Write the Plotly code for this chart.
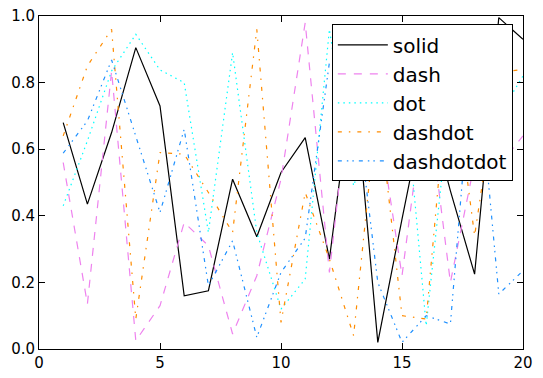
import plotly.graph_objects as go

x = list(range(1, 21))
solid = [0.68, 0.435, 0.65, 0.905, 0.73, 0.16, 0.175, 0.51, 0.337, 0.53, 0.635, 0.27, 0.83, 0.02, 0.39, 0.75, 0.475, 0.225, 0.995, 0.93]
dash = [0.56, 0.135, 0.835, 0.025, 0.13, 0.38, 0.31, 0.045, 0.22, 0.51, 0.98, 0.23, 0.88, 0.70, 0.22, 0.78, 0.20, 0.56, 0.55, 0.64]
dot = [0.43, 0.625, 0.835, 0.945, 0.838, 0.80, 0.35, 0.89, 0.35, 0.12, 0.21, 0.96, 0.49, 0.70, 0.87, 0.07, 0.76, 0.60, 0.70, 0.82]
dashdot = [0.64, 0.85, 0.96, 0.09, 0.59, 0.585, 0.47, 0.35, 0.96, 0.08, 0.47, 0.27, 0.04, 0.75, 0.10, 0.09, 0.90, 0.34, 0.83, 0.84]
dashdotdot = [0.588, 0.685, 0.868, 0.64, 0.41, 0.66, 0.19, 0.325, 0.035, 0.23, 0.333, 0.86, 0.80, 0.20, 0.02, 0.10, 0.075, 0.95, 0.165, 0.235]

names = ["solid", "dash", "dot", "dashdot", "dashdotdot"]
series = [solid, dash, dot, dashdot, dashdotdot]
colors = ["#000000", "#EE82EE", "#00FFFF", "#FF8C00", "#1E90FF"]
dashes = ["solid", "8px,8px", "1.5px,4px", "4px,7px,1.5px,7px", "4px,5px,1.5px,4px,1.5px,5px"]

fig = go.Figure()
for n, s, c, d in zip(names, series, colors, dashes):
    fig.add_trace(go.Scatter(x=x, y=s, mode="lines", name=n,
                             line=dict(color=c, width=1.2, dash=d)))

axis_common = dict(showline=True, linecolor="black", linewidth=1, mirror="allticks",
                   ticks="inside", ticklen=6, tickcolor="black", showgrid=False,
                   zeroline=False, automargin=False,
                   tickfont=dict(family="DejaVu Sans", size=15, color="black"))
fig.update_xaxes(range=[0, 20], tickvals=[0, 5, 10, 15, 20], **axis_common)
fig.update_yaxes(range=[0, 1], tickvals=[0, 0.2, 0.4, 0.6, 0.8, 1.0], tickformat=".1f", **axis_common)

fig.update_layout(
    width=543, height=378,
    margin=dict(l=39, r=20, t=16, b=29, autoexpand=False),
    paper_bgcolor="white", plot_bgcolor="white",
    showlegend=True,
    legend=dict(x=0.979, y=0.975, xanchor="right", yanchor="top",
                bgcolor="white", bordercolor="black", borderwidth=1,
                font=dict(family="DejaVu Sans", size=20, color="black"),
                itemwidth=50, tracegroupgap=0),
)
fig.write_html("out.html", config={"displayModeBar": False},
               post_script="document.body.style.margin='0';document.body.style.overflow='hidden';")
